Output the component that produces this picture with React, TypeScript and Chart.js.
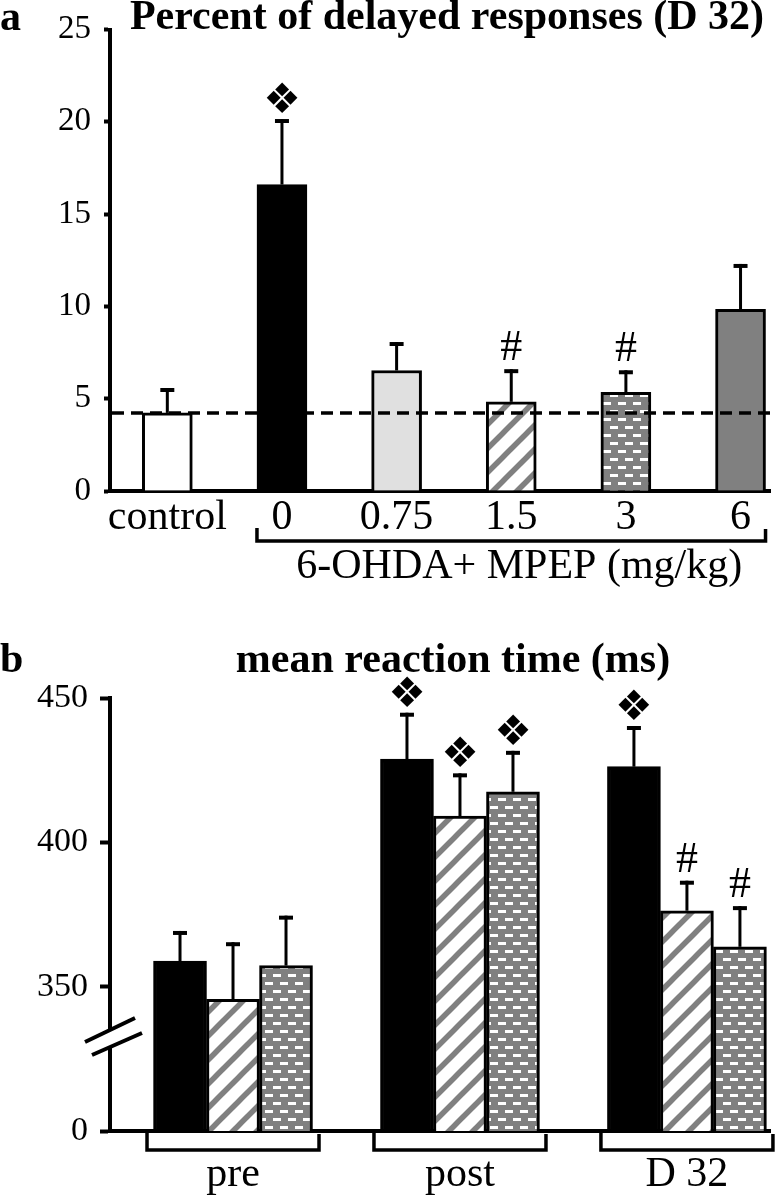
import React, { useEffect, useRef } from 'react';
import { Chart, registerables } from 'chart.js';

Chart.register(...registerables);

// ---------- Panel a data ----------
const doseLabels = ['control', '0', '0.75', '1.5', '3', '6'];
const delayedMeans = [4.23, 16.6, 6.53, 4.83, 5.35, 9.84];
const delayedSems = [1.35, 3.55, 1.54, 1.77, 1.19, 2.46];
const delayedMarks = ['', '❖', '', '#', '#', ''];
const titleA = 'Percent of delayed responses (D 32)';
const groupLabelA = '6-OHDA+ MPEP (mg/kg)';

// ---------- Panel b data ----------
const phaseLabels = ['pre', 'post', 'D 32'];
const rtVehicle = [358.9, 428.8, 426.2];
const rtVehicleSem = [10.4, 16.1, 14.1];
const rtMpep15 = [345.6, 409.1, 376.3];
const rtMpep15Sem = [19.8, 14.8, 10.4];
const rtMpep3 = [357.3, 417.5, 363.8];
const rtMpep3Sem = [17.3, 14.2, 14.1];
const marksVehicle = ['', '❖', '❖'];
const marksMpep15 = ['', '❖', '#'];
const marksMpep3 = ['', '❖', '#'];
const rtAxisBase = 300; // broken axis: 300 is shown as "0"
const titleB = 'mean reaction time (ms)';

const SERIF = "'Liberation Serif', 'Times New Roman', serif";
const SYMBOL = "'DejaVu Sans', sans-serif";
const GREY = '#808080';

function makeHatch(): CanvasPattern | string {
  const n = 24;
  const c = document.createElement('canvas');
  c.width = n; c.height = n;
  const g = c.getContext('2d');
  if (!g) return '#fff';
  g.fillStyle = '#fff';
  g.fillRect(0, 0, n, n);
  g.strokeStyle = GREY;
  g.lineWidth = 5.5;
  const segs = [[-n / 2, n / 2, n / 2, -n / 2], [0, n, n, 0], [n / 2, n * 1.5, n * 1.5, n / 2]];
  segs.forEach(([a, b, cc, d]) => { g.beginPath(); g.moveTo(a, b); g.lineTo(cc, d); g.stroke(); });
  return g.createPattern(c, 'repeat') || '#fff';
}

function makeDots(): CanvasPattern | string {
  const c = document.createElement('canvas');
  c.width = 15; c.height = 16;
  const g = c.getContext('2d');
  if (!g) return GREY;
  g.fillStyle = GREY;
  g.fillRect(0, 0, 15, 16);
  g.fillStyle = '#fff';
  g.fillRect(3, 2, 8, 3);
  g.fillRect(10, 10, 8, 3);
  g.fillRect(-5, 10, 8, 3);
  return g.createPattern(c, 'repeat') || GREY;
}

function drawErr(ctx: CanvasRenderingContext2D, x: number, barTop: number, top: number) {
  ctx.strokeStyle = '#000';
  ctx.lineCap = 'butt';
  ctx.lineWidth = 3;
  ctx.beginPath();
  ctx.moveTo(x, barTop);
  ctx.lineTo(x, top);
  ctx.stroke();
  ctx.lineWidth = 4;
  ctx.beginPath();
  ctx.moveTo(x - 7, top + 2);
  ctx.lineTo(x + 7, top + 2);
  ctx.stroke();
}

function drawMark(ctx: CanvasRenderingContext2D, m: string, x: number, top: number) {
  if (!m) return;
  ctx.fillStyle = '#000';
  ctx.textAlign = 'center';
  ctx.textBaseline = 'alphabetic';
  if (m === '❖') {
    ctx.font = `42px ${SYMBOL}`;
    ctx.fillText(m, x, top - 6);
  } else {
    ctx.font = `44px ${SERIF}`;
    ctx.fillText(m, x, top - 9);
  }
}

const annotA = {
  id: 'annotA',
  afterDatasetsDraw(chart: any) {
    const ctx = chart.ctx as CanvasRenderingContext2D;
    const ys = chart.scales.y;
    const area = chart.chartArea;
    const meta = chart.getDatasetMeta(0);
    ctx.save();
    meta.data.forEach((bar: any, i: number) => {
      const top = ys.getPixelForValue(delayedMeans[i] + delayedSems[i]);
      drawErr(ctx, bar.x, bar.y, top);
      drawMark(ctx, delayedMarks[i], bar.x, top);
    });
    // dashed control level
    const ly = ys.getPixelForValue(delayedMeans[0]);
    ctx.setLineDash([12, 7]);
    ctx.lineWidth = 3.5;
    ctx.strokeStyle = '#000';
    ctx.beginPath();
    ctx.moveTo(area.left + 2, ly);
    ctx.lineTo(area.right, ly);
    ctx.stroke();
    ctx.setLineDash([]);
    ctx.restore();
  },
  afterDraw(chart: any) {
    const ctx = chart.ctx as CanvasRenderingContext2D;
    const xs = chart.scales.x;
    ctx.save();
    ctx.fillStyle = '#000';
    ctx.textBaseline = 'alphabetic';
    ctx.font = `bold 42px ${SERIF}`;
    ctx.textAlign = 'left';
    ctx.fillText('a', 0, 30);
    ctx.textAlign = 'center';
    ctx.fillText(titleA, 447, 29);
    // bracket
    const xl = xs.getPixelForValue(1) - 25;
    const xr = xs.getPixelForValue(5) + 25;
    ctx.strokeStyle = '#000';
    ctx.lineWidth = 3.5;
    ctx.beginPath();
    ctx.moveTo(xl, 528);
    ctx.lineTo(xl, 541);
    ctx.lineTo(xr, 541);
    ctx.lineTo(xr, 529);
    ctx.stroke();
    ctx.font = `42px ${SERIF}`;
    ctx.fillText(groupLabelA, (xl + xr) / 2 + 8, 578);
    ctx.restore();
  },
};

const seriesB = [
  { means: rtVehicle, sems: rtVehicleSem, marks: marksVehicle },
  { means: rtMpep15, sems: rtMpep15Sem, marks: marksMpep15 },
  { means: rtMpep3, sems: rtMpep3Sem, marks: marksMpep3 },
];

const annotB = {
  id: 'annotB',
  afterDatasetsDraw(chart: any) {
    const ctx = chart.ctx as CanvasRenderingContext2D;
    const ys = chart.scales.y;
    ctx.save();
    seriesB.forEach((s, d) => {
      const meta = chart.getDatasetMeta(d);
      meta.data.forEach((bar: any, i: number) => {
        const top = ys.getPixelForValue(s.means[i] + s.sems[i]);
        drawErr(ctx, bar.x, bar.y, top);
        drawMark(ctx, s.marks[i], bar.x, top);
      });
    });
    ctx.restore();
  },
  afterDraw(chart: any) {
    const ctx = chart.ctx as CanvasRenderingContext2D;
    const xs = chart.scales.x;
    ctx.save();
    ctx.fillStyle = '#000';
    ctx.textBaseline = 'alphabetic';
    ctx.font = `bold 42px ${SERIF}`;
    ctx.textAlign = 'left';
    ctx.fillText('b', 0, 52);
    ctx.textAlign = 'center';
    ctx.fillText(titleB, 453, 52);
    // group brackets
    ctx.strokeStyle = '#000';
    ctx.lineWidth = 3.5;
    phaseLabels.forEach((_, i) => {
      const cx = xs.getPixelForValue(i);
      ctx.beginPath();
      ctx.moveTo(cx - 86, 513);
      ctx.lineTo(cx - 86, 530);
      ctx.lineTo(cx + 86, 530);
      ctx.lineTo(cx + 86, 514);
      ctx.stroke();
    });
    // axis break
    ctx.fillStyle = '#fff';
    ctx.fillRect(104, 410, 12, 17);
    ctx.strokeStyle = '#000';
    ctx.lineWidth = 4;
    ctx.beginPath();
    ctx.moveTo(85, 422); ctx.lineTo(135, 398);
    ctx.moveTo(92, 435); ctx.lineTo(142, 413);
    ctx.stroke();
    ctx.restore();
  },
};

export default function App() {
  const refA = useRef<HTMLCanvasElement>(null);
  const refB = useRef<HTMLCanvasElement>(null);

  useEffect(() => {
    if (!refA.current || !refB.current) return;
    const hatch = makeHatch();
    const dots = makeDots();

    const chartA = new Chart(refA.current, {
      type: 'bar',
      data: {
        datasets: [
          {
            data: delayedMeans.map((v, i) => ({ x: i, y: v })),
            backgroundColor: ['#ffffff', '#000000', '#e0e0e0', hatch, dots, GREY] as any,
            borderColor: '#000',
            borderWidth: 3,
            barThickness: 50,
          },
        ],
      },
      options: {
        responsive: false,
        animation: false,
        layout: { padding: { top: 16, left: 0, right: 6, bottom: 0 } },
        plugins: { legend: { display: false }, tooltip: { enabled: false } },
        scales: {
          x: {
            type: 'linear',
            min: -0.5,
            max: 5.257,
            offset: false,
            grid: { display: false, drawTicks: false },
            border: { display: true, color: '#000', width: 4 },
            ticks: {
              stepSize: 1,
              includeBounds: false,
              autoSkip: false,
              maxRotation: 0,
              color: '#000',
              padding: 6,
              font: { family: SERIF, size: 42, lineHeight: 1 },
              callback: (v: any) => doseLabels[v as number] ?? '',
            },
            afterFit: (s: any) => { s.height = 129; },
          },
          y: {
            min: 0,
            max: 25,
            ticks: {
              stepSize: 5,
              color: '#000',
              padding: 13,
              font: { family: SERIF, size: 33, lineHeight: 1 },
            },
            grid: { display: true, drawOnChartArea: false, drawTicks: true, tickLength: 6, tickWidth: 4, color: '#000' },
            border: { display: true, color: '#000', width: 4 },
            afterFit: (s: any) => { s.width = 110; },
          },
        },
      } as any,
      plugins: [annotA],
    });

    const fillsB = ['#000000', hatch, dots];
    const chartB = new Chart(refB.current, {
      type: 'bar',
      data: {
        datasets: [rtVehicle, rtMpep15, rtMpep3].map((arr, d) => ({
          data: arr.map((v, i) => ({ x: i, y: v })),
          backgroundColor: fillsB[d] as any,
          borderColor: '#000',
          borderWidth: 3,
          barThickness: 53,
        })),
      },
      options: {
        responsive: false,
        animation: false,
        layout: { padding: { top: 78, left: 0, right: 6, bottom: 0 } },
        plugins: { legend: { display: false }, tooltip: { enabled: false } },
        scales: {
          x: {
            type: 'linear',
            min: -0.542,
            max: 2.366,
            offset: false,
            grid: { display: false, drawTicks: false },
            border: { display: true, color: '#000', width: 4 },
            ticks: {
              stepSize: 1,
              includeBounds: false,
              autoSkip: false,
              maxRotation: 0,
              color: '#000',
              padding: 23,
              font: { family: SERIF, size: 42, lineHeight: 1 },
              callback: (v: any) => phaseLabels[v as number] ?? '',
            },
            afterFit: (s: any) => { s.height = 69; },
          },
          y: {
            min: rtAxisBase,
            max: 450,
            ticks: {
              stepSize: 50,
              color: '#000',
              padding: 12,
              font: { family: SERIF, size: 34, lineHeight: 1 },
              callback: (v: any) => (v === rtAxisBase ? '0' : String(v)),
            },
            grid: { display: true, drawOnChartArea: false, drawTicks: true, tickLength: 10, tickWidth: 4, color: '#000' },
            border: { display: true, color: '#000', width: 4 },
            afterFit: (s: any) => { s.width = 110; },
          },
        },
      } as any,
      plugins: [annotB],
    });

    return () => {
      chartA.destroy();
      chartB.destroy();
    };
  }, []);

  return (
    <div style={{ position: 'absolute', left: 0, top: 0, width: 776, height: 1200, background: '#fff' }}>
      <canvas ref={refA} width={776} height={620} style={{ display: 'block' }} />
      <canvas ref={refB} width={776} height={580} style={{ display: 'block' }} />
    </div>
  );
}
